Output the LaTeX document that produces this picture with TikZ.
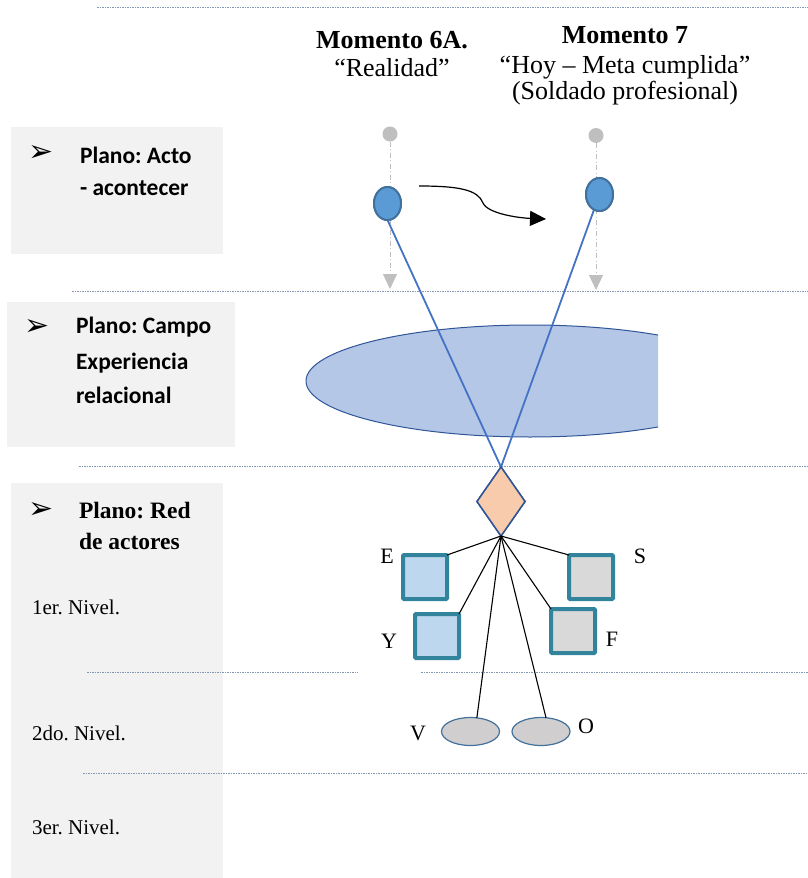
\documentclass[tikz,border=0pt]{standalone}
\usepackage{fontspec}
\usetikzlibrary{shapes.geometric,arrows.meta}
\newfontfamily\tnrfont{Liberation Serif}
\newfontfamily\calfont{Carlito}
\newfontfamily\symfont{DejaVu Sans}
\frenchspacing
\definecolor{boxgray}{HTML}{F2F2F2}
\definecolor{sepgray}{HTML}{8497B0}
\definecolor{dotgray}{HTML}{BFBFBF}
\definecolor{nodeblue}{HTML}{5B9BD5}
\definecolor{nodeblueb}{HTML}{41719C}
\definecolor{fieldblue}{HTML}{B4C7E7}
\definecolor{darkblue}{HTML}{2F5597}
\definecolor{lineblue}{HTML}{4472C4}
\definecolor{peach}{HTML}{F8CBAD}
\definecolor{tealb}{HTML}{31849B}
\definecolor{lblue}{HTML}{BDD7EE}
\definecolor{lgray}{HTML}{D9D9D9}
\definecolor{ovgray}{HTML}{D0CECE}
\tikzset{
  sepline/.style={draw=sepgray, line width=0.7pt, dash pattern=on 1.5pt off 1pt},
  caltxt/.style={anchor=base west, font=\calfont\bfseries\fontsize{23.5}{28}\selectfont},
  sertxt/.style={font=\tnrfont\fontsize{22}{26}\selectfont},
  redtxt/.style={anchor=base west, font=\tnrfont\bfseries\fontsize{23.5}{28}\selectfont},
  niveltxt/.style={anchor=base west, font=\tnrfont\fontsize{21}{25}\selectfont},
  headbold/.style={anchor=base, font=\tnrfont\bfseries\fontsize{26}{30}\selectfont},
  headreg/.style={anchor=base, font=\tnrfont\fontsize{26}{30}\selectfont},
  arrowsym/.style={font=\symfont\fontsize{30}{32}\selectfont},
  graydot/.style={circle, fill=dotgray, minimum size=15pt},
  dropline/.style={draw=dotgray, line width=1pt, dash pattern=on 5pt off 2.5pt on 1pt off 2.5pt,
     -{Triangle[width=14pt,length=15pt,fill=dotgray]}},
  actnode/.style={ellipse, fill=nodeblue, draw=nodeblueb, line width=2pt, minimum width=27pt, minimum height=33pt},
  vline/.style={draw=lineblue, line width=1.8pt},
  hub/.style={diamond, fill=peach, draw=darkblue, line width=1.5pt, minimum width=48pt, minimum height=69pt},
  actor/.style={rectangle, draw=tealb, line width=4pt, minimum size=44pt, rounded corners=1pt},
  minor/.style={ellipse, fill=ovgray, draw=nodeblueb, line width=1.2pt, minimum width=58pt, minimum height=28pt},
  bline/.style={draw=black, line width=1.1pt},
}
\begin{document}
\begin{tikzpicture}[x=1pt,y=-1pt, every node/.style={inner sep=0pt, outer sep=0pt}]
\useasboundingbox (0,0) rectangle (808,878);
% plane panels
\fill[boxgray] (11,127) rectangle (223,254);
\fill[boxgray] (7,302) rectangle (235,447);
\fill[boxgray] (11,483) rectangle (223,878);
% separators
\draw[sepline] (97,7) -- (808,7);
\draw[sepline] (72,291) -- (808,291);
\draw[sepline] (79,466) -- (808,466);
\draw[sepline] (87,672) -- (358,672);
\draw[sepline] (421,672) -- (808,672);
\draw[sepline] (83,773) -- (808,773);
% headers
\node[headbold] (h6) at (392,48) {Momento 6A.};
\node[headreg] (h6b) at (392,76) {“Realidad”};
\node[headbold] (h7) at (625,43) {Momento 7};
\node[headreg] (h7b) at (625,73) {“Hoy – Meta cumplida”};
\node[headreg] (h7c) at (625,99) {(Soldado profesional)};
% plane labels
\node[arrowsym] (a1) at (41,153) {➢};
\node[caltxt] (t1a) at (80,163) {Plano: Acto};
\node[caltxt] (t1b) at (80,195) {- acontecer};
\node[arrowsym] (a2) at (37,327) {➢};
\node[caltxt] (t2a) at (76,333) {Plano: Campo};
\node[caltxt] (t2b) at (76,369) {Experiencia};
\node[caltxt] (t2c) at (76,403) {relacional};
\node[arrowsym] (a3) at (41,510) {➢};
\node[redtxt] (t3a) at (79,518) {Plano: Red};
\node[redtxt] (t3b) at (79,549) {de actores};
\node[niveltxt] (n1) at (32,614) {1er. Nivel.};
\node[niveltxt] (n2) at (32,740) {2do. Nivel.};
\node[niveltxt] (n3) at (32,834) {3er. Nivel.};
% relational field
\begin{scope}
\clip (0,0) rectangle (658,878);
\draw[fill=fieldblue, draw=darkblue, line width=1pt] (530,381) ellipse [x radius=224, y radius=56];
\end{scope}
% act plane
\node[graydot] (d1) at (390,134) {};
\node[graydot] (d2) at (596,135.5) {};
\coordinate (d1e) at (390,289);
\coordinate (d2e) at (596,290);
\draw[dropline] (d1) -- (d1e);
\draw[dropline] (d2) -- (d2e);
\node[hub] (dm) at (501,501.5) {};
\node[actnode] (e1) at (387.5,203.5) {};
\node[actnode] (e2) at (599.5,194.5) {};
\draw[vline] (e1.south) -- (dm.north);
\draw[vline] (e2) -- (dm.north);
\node[actnode] at (e1) {};
\node[actnode] at (e2) {};
\node[hub] at (dm) {};
% transition arrow
\coordinate (c0) at (419,186);
\coordinate (c1) at (546,219);
\draw[black, line width=1.2pt, -{Triangle[width=15pt,length=16pt]}]
  (c0) .. controls (460,186) and (478,190) .. (483,203)
       .. controls (488,214) and (520,218) .. (c1);
% actors
\node[actor, fill=lblue] (E) at (425,577) {};
\node[actor, fill=lblue] (Y) at (437,636) {};
\node[actor, fill=lgray] (S) at (591,577) {};
\node[actor, fill=lgray] (F) at (573,631) {};
\node[minor] (V) at (470.5,731.5) {};
\node[minor] (O) at (541,731.5) {};
\draw[bline] (dm.south) -- (E.north east);
\draw[bline] (dm.south) -- (Y.north east);
\draw[bline] (dm.south) -- (S.north west);
\draw[bline] (dm.south) -- (F.north west);
\draw[bline] (dm.south) -- (V.65);
\draw[bline] (dm.south) -- (O.70);
\node[sertxt] (lE) at (387,556) {E};
\node[sertxt] (lS) at (640,556) {S};
\node[sertxt] (lY) at (389,641) {Y};
\node[sertxt] (lF) at (612,639) {F};
\node[sertxt] (lV) at (418,733) {V};
\node[sertxt] (lO) at (586,726) {O};
\end{tikzpicture}
\end{document}
